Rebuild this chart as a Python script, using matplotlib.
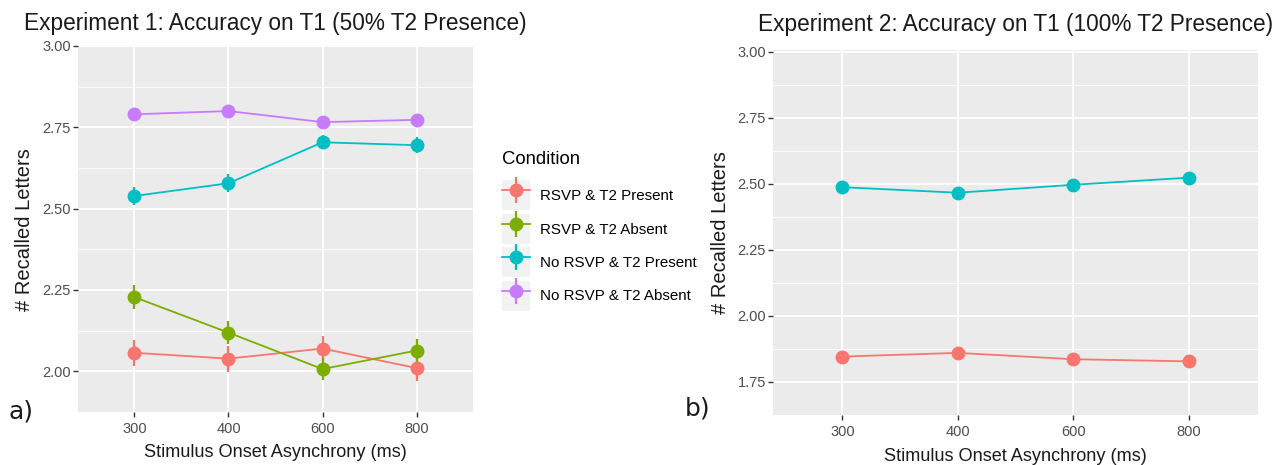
import matplotlib
matplotlib.use("Agg")
import matplotlib.pyplot as plt
from matplotlib.lines import Line2D
from matplotlib.patches import Patch
from matplotlib.legend_handler import HandlerTuple
import numpy as np

# data
soa = ["300", "400", "600", "800"]
conditions = ["RSVP & T2 Present", "RSVP & T2 Absent", "No RSVP & T2 Present", "No RSVP & T2 Absent"]
colors = ["#F8766D", "#7CAE00", "#00BFC4", "#C77CFF"]

# experiment 1 (means and error half-widths)
exp1_rsvp_present = [2.057, 2.039, 2.070, 2.010]
exp1_rsvp_absent = [2.228, 2.119, 2.007, 2.064]
exp1_norsvp_present = [2.539, 2.578, 2.704, 2.695]
exp1_norsvp_absent = [2.790, 2.800, 2.766, 2.773]
exp1_err_rsvp_present = [0.040, 0.040, 0.038, 0.040]
exp1_err_rsvp_absent = [0.036, 0.035, 0.035, 0.036]
exp1_err_norsvp_present = [0.027, 0.027, 0.022, 0.024]
exp1_err_norsvp_absent = [0.013, 0.013, 0.013, 0.013]

# experiment 2
exp2_rsvp_present = [1.846, 1.860, 1.836, 1.828]
exp2_norsvp_present = [2.487, 2.466, 2.496, 2.523]
exp2_err_rsvp_present = [0.020, 0.022, 0.020, 0.018]
exp2_err_norsvp_present = [0.015, 0.015, 0.015, 0.018]

W, H = 1286, 465
plt.rcParams['font.family'] = ['Liberation Sans', 'DejaVu Sans']

fig = plt.figure(figsize=(W / 100, H / 100), dpi=100)

def px_axes(x0, y0, x1, y1):
    # pixel box (top-left origin) -> figure axes
    return fig.add_axes([x0 / W, 1 - y1 / H, (x1 - x0) / W, (y1 - y0) / H])

def gg_style(ax, ylim, yticks):
    ax.set_facecolor("#EBEBEB")
    for s in ax.spines.values():
        s.set_visible(False)
    ax.set_xlim(0.4, 4.6)
    ax.set_ylim(*ylim)
    ax.set_xticks(range(1, 5))
    ax.set_xticklabels(soa)
    ax.set_yticks(yticks)
    ax.set_yticklabels(["%.2f" % t for t in yticks])
    ax.set_yticks([t + 0.125 for t in yticks[:-1]] + [yticks[0] - 0.125], minor=True)
    ax.grid(True, which="major", color="white", linewidth=1.3)
    ax.grid(True, which="minor", color="white", linewidth=0.6)
    ax.set_axisbelow(True)
    ax.tick_params(which="major", length=3.5, width=1, color="#333333",
                   labelcolor="#4D4D4D", labelsize=10.5)
    ax.tick_params(axis="x", pad=3.5)
    ax.tick_params(axis="y", pad=1.5)
    ax.tick_params(which="minor", length=0)

def draw_series(ax, y, err, color):
    x = np.arange(1, len(y) + 1)
    ax.plot(x, y, color=color, linewidth=1.3, zorder=3)
    ax.errorbar(x, y, yerr=err, fmt="o", color=color, markersize=9,
                elinewidth=1.6, capsize=0, zorder=4)

# left panel
ax1 = px_axes(78, 45, 473, 412)
gg_style(ax1, (1.903, 3.003), [2.00, 2.25, 2.50, 2.75, 3.00])
draw_series(ax1, exp1_rsvp_present, exp1_err_rsvp_present, colors[0])
draw_series(ax1, exp1_rsvp_absent, exp1_err_rsvp_absent, colors[1])
draw_series(ax1, exp1_norsvp_present, exp1_err_norsvp_present, colors[2])
draw_series(ax1, exp1_norsvp_absent, exp1_err_norsvp_absent, colors[3])

# right panel
ax2 = px_axes(773, 50, 1258, 415)
gg_style(ax2, (1.692, 3.006), [1.75, 2.00, 2.25, 2.50, 2.75, 3.00])
draw_series(ax2, exp2_rsvp_present, exp2_err_rsvp_present, colors[0])
draw_series(ax2, exp2_norsvp_present, exp2_err_norsvp_present, colors[2])

# titles and axis labels
fig.text(275.5 / W, 1 - 30 / H, "Experiment 1: Accuracy on T1 (50% T2 Presence)",
         ha="center", va="baseline", fontsize=16.3, color="#1A1A1A")
fig.text(1015.5 / W, 1 - 31 / H, "Experiment 2: Accuracy on T1 (100% T2 Presence)",
         ha="center", va="baseline", fontsize=16.3, color="#1A1A1A")
fig.text(275.5 / W, 1 - 457 / H, "Stimulus Onset Asynchrony (ms)",
         ha="center", va="baseline", fontsize=13.1, color="#1A1A1A")
fig.text(1015.5 / W, 1 - 461 / H, "Stimulus Onset Asynchrony (ms)",
         ha="center", va="baseline", fontsize=13.1, color="#1A1A1A")
fig.text(25 / W, 1 - 229.5 / H, "# Recalled Letters", rotation=90,
         ha="center", va="center", fontsize=14.5, color="#1A1A1A")
fig.text(720 / W, 1 - 232.5 / H, "# Recalled Letters", rotation=90,
         ha="center", va="center", fontsize=14.5, color="#1A1A1A")

fig.text(8 / W, 1 - 411 / H, "a)", ha="left", va="center", fontsize=18,
         family="DejaVu Sans", color="#1A1A1A")
fig.text(685 / W, 1 - 408.5 / H, "b)", ha="left", va="center", fontsize=18,
         family="DejaVu Sans", color="#1A1A1A")

# legend
handles = []
for c in colors:
    handles.append((Patch(facecolor="#F2F2F2", edgecolor="none"),
                    Line2D([], [], color=c, linewidth=1.3),
                    Line2D([], [], color=c, linestyle="none", marker="|",
                           markersize=19, markeredgewidth=1.6),
                    Line2D([], [], color=c, linestyle="none", marker="o",
                           markersize=9)))
leg = fig.legend(handles, conditions, title="Condition",
                 handler_map={tuple: HandlerTuple(ndivide=1, pad=0)},
                 loc="upper left", bbox_to_anchor=(502 / W, 1 - 151 / H),
                 frameon=False, fontsize=10.9, title_fontsize=13.3,
                 handlelength=1.85, handleheight=2.67, labelspacing=0.23,
                 handletextpad=0.66, borderpad=0, borderaxespad=0,
                 alignment="left")
leg._legend_box.sep = 9

fig.savefig("out.png", dpi=100)
